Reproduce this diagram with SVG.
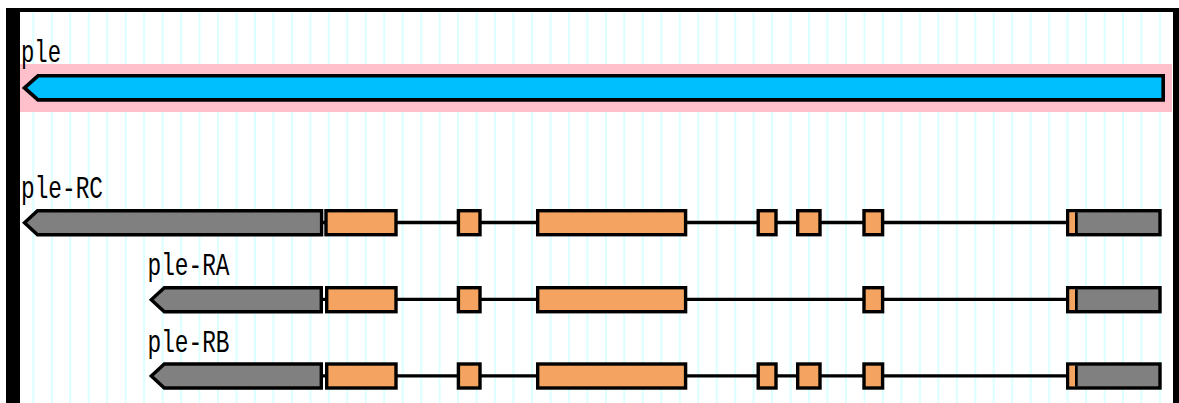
<svg xmlns="http://www.w3.org/2000/svg" width="1179" height="403" viewBox="0 0 1179 403">
  <style>
    .lbl { font-family: "Liberation Mono", "DejaVu Sans Mono", monospace; font-size: 32px; fill: #000; }
    .intron { stroke: #000; stroke-width: 3.3; fill: none; }
    .utr { fill: #808080; stroke: #000; stroke-width: 3.4; }
    .cds { fill: #f4a460; stroke: #000; stroke-width: 3.4; }
    .gene { fill: #00bfff; stroke: #000; stroke-width: 3.6; }
    .tick { stroke: #dcffff; stroke-width: 2; fill: none; }
  </style>

  <rect x="0" y="0" width="1179" height="403" fill="#fff"/>

  <!-- ruler tick columns behind the tracks -->
  <path class="tick" d="M33.3 12V403M51.8 12V403M70.2 12V403M88.7 12V403M107.2 12V403M125.7 12V403M144.1 12V403M162.6 12V403M181.1 12V403M199.5 12V403M218 12V403M236.5 12V403M254.9 12V403M273.4 12V403M291.9 12V403M310.4 12V403M328.8 12V403M347.3 12V403M365.8 12V403M384.2 12V403M402.7 12V403M421.2 12V403M439.6 12V403M458.1 12V403M476.6 12V403M495.1 12V403M513.5 12V403M532 12V403M550.5 12V403M568.9 12V403M587.4 12V403M605.9 12V403M624.3 12V403M642.8 12V403M661.3 12V403M679.8 12V403M698.2 12V403M716.7 12V403M735.2 12V403M753.6 12V403M772.1 12V403M790.6 12V403M809 12V403M827.5 12V403M846 12V403M864.5 12V403M882.9 12V403M901.4 12V403M919.9 12V403M938.3 12V403M956.8 12V403M975.3 12V403M993.7 12V403M1012.2 12V403M1030.7 12V403M1049.2 12V403M1067.6 12V403M1086.1 12V403M1104.6 12V403M1123 12V403M1141.5 12V403M1160 12V403"/>

  <!-- panel frame -->
  <g id="frame" fill="#000">
    <rect x="6" y="8" width="1173" height="4"/>
    <rect x="6" y="8" width="14" height="395"/>
    <rect x="1173" y="8" width="6" height="395"/>
  </g>

  <!-- gene track -->
  <g id="ple">
    <rect x="20" y="64" width="1152" height="48" fill="#ffc0cb"/>
    <path class="gene" d="M24.5,87.9 L38,75.8 L1163.2,75.8 L1163.2,99.9 L38,99.9 Z"/>
    <text class="lbl" x="21" y="62.3" textLength="40" lengthAdjust="spacingAndGlyphs">ple</text>
  </g>

  <!-- intron lines -->
  <g id="connectors">
    <line class="intron" x1="321" y1="222.5" x2="1068" y2="222.5"/>
    <line class="intron" x1="321" y1="299.3" x2="1068" y2="299.3"/>
    <line class="intron" x1="321" y1="375.8" x2="1068" y2="375.8"/>
  </g>

  <!-- transcript ple-RC -->
  <g id="ple-RC">
    <text class="lbl" x="21" y="198.3" textLength="82" lengthAdjust="spacingAndGlyphs">ple-RC</text>
    <path class="utr" d="M24.5,222.7 L37.5,210.7 L321.6,210.7 L321.6,234.7 L37.5,234.7 Z"/>
    <rect class="cds" x="326" y="210.7" width="70" height="24"/>
    <rect class="cds" x="458.4" y="210.7" width="21.6" height="24"/>
    <rect class="cds" x="537.7" y="210.7" width="147.9" height="24"/>
    <rect class="cds" x="758.2" y="210.7" width="17.8" height="24"/>
    <rect class="cds" x="797.7" y="210.7" width="22.3" height="24"/>
    <rect class="cds" x="864" y="210.7" width="18.6" height="24"/>
    <rect class="utr" x="1067.7" y="210.7" width="92.3" height="24"/>
    <rect x="1069.4" y="212.4" width="5.8" height="20.6" fill="#f4a460"/>
    <rect x="1075" y="212.4" width="2.7" height="20.6" fill="#000"/>
  </g>

  <!-- transcript ple-RA -->
  <g id="ple-RA">
    <text class="lbl" x="147.5" y="275" textLength="82" lengthAdjust="spacingAndGlyphs">ple-RA</text>
    <path class="utr" d="M151.3,299.7 L164.3,287.7 L321.3,287.7 L321.3,311.7 L164.3,311.7 Z"/>
    <rect class="cds" x="326.7" y="287.7" width="69.3" height="24"/>
    <rect class="cds" x="458.4" y="287.7" width="21.6" height="24"/>
    <rect class="cds" x="537.7" y="287.7" width="147.9" height="24"/>
    <rect class="cds" x="864" y="287.7" width="18.6" height="24"/>
    <rect class="utr" x="1067.7" y="287.7" width="92.3" height="24"/>
    <rect x="1069.4" y="289.4" width="5.8" height="20.6" fill="#f4a460"/>
    <rect x="1075" y="289.4" width="2.7" height="20.6" fill="#000"/>
  </g>

  <!-- transcript ple-RB -->
  <g id="ple-RB">
    <text class="lbl" x="147.5" y="351.7" textLength="82" lengthAdjust="spacingAndGlyphs">ple-RB</text>
    <path class="utr" d="M151.3,376 L164.3,364 L321.3,364 L321.3,388 L164.3,388 Z"/>
    <rect class="cds" x="326.7" y="364" width="69.3" height="24"/>
    <rect class="cds" x="458.4" y="364" width="21.6" height="24"/>
    <rect class="cds" x="537.7" y="364" width="147.9" height="24"/>
    <rect class="cds" x="758.2" y="364" width="17.8" height="24"/>
    <rect class="cds" x="797.7" y="364" width="22.3" height="24"/>
    <rect class="cds" x="864" y="364" width="18.6" height="24"/>
    <rect class="utr" x="1067.7" y="364" width="92.3" height="24"/>
    <rect x="1069.4" y="365.7" width="5.8" height="20.6" fill="#f4a460"/>
    <rect x="1075" y="365.7" width="2.7" height="20.6" fill="#000"/>
  </g>
</svg>
